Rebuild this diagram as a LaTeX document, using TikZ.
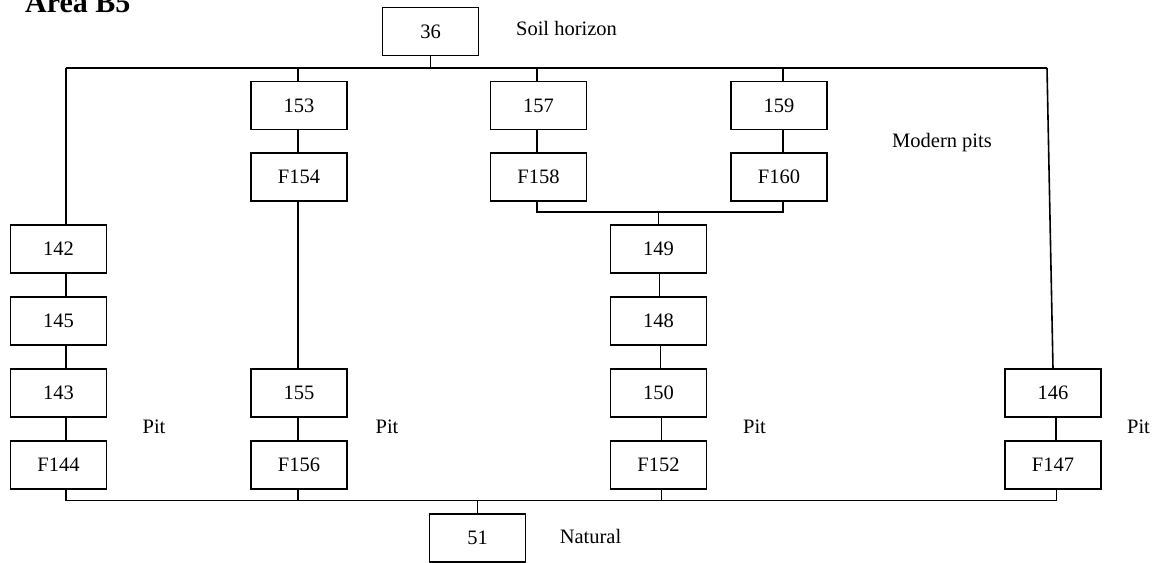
\documentclass[tikz,border=0pt]{standalone}
\usepackage{fontspec}
\setmainfont{Liberation Serif}
\begin{document}
\begin{tikzpicture}[x=1pt,y=-1pt,
  box/.style={draw, line width=1.6pt, minimum width=96pt, minimum height=48pt, inner sep=0pt, outer sep=0pt, font=\fontsize{20.5}{24}\selectfont},
  conn/.style={line width=1.6pt},
  lbl/.style={anchor=base, inner sep=0pt, font=\fontsize{20.5}{24}\selectfont}]
\useasboundingbox (0,0) rectangle (1161,562);
\node[anchor=base west, inner sep=0pt, font=\fontsize{30}{34}\selectfont\bfseries] (title) at (25,12.5) {Area B5};
% boxes
\node[box] (n36) at (430.5,31.5) {36};
\node[box] (n153) at (299,105.5) {153};
\node[box] (n157) at (538.5,105.5) {157};
\node[box] (n159) at (779,105.5) {159};
\node[box] (nF154) at (299,177) {F154};
\node[box] (nF158) at (538.5,177) {F158};
\node[box] (nF160) at (779,177) {F160};
\node[box] (n142) at (58.5,249) {142};
\node[box] (n149) at (658.5,249) {149};
\node[box] (n145) at (58.5,321) {145};
\node[box] (n148) at (658.5,321) {148};
\node[box] (n143) at (58.5,393) {143};
\node[box] (n155) at (299,393) {155};
\node[box] (n150) at (658.5,393) {150};
\node[box] (n146) at (1053,393) {146};
\node[box] (nF144) at (58.5,465) {F144};
\node[box] (nF156) at (299,465) {F156};
\node[box] (nF152) at (658.5,465) {F152};
\node[box] (nF147) at (1053,465) {F147};
\node[box] (n51) at (477.5,538) {51};
% labels
\node[lbl] (soil) at (566.5,35) {Soil horizon};
\node[lbl] (modern) at (942,147) {Modern pits};
\node[lbl] (natural) at (590.5,543) {Natural};
\node[lbl] (pit1) at (154,433) {Pit};
\node[lbl] (pit2) at (387,433) {Pit};
\node[lbl] (pit3) at (754.5,433) {Pit};
\node[lbl] (pit4) at (1138.5,433) {Pit};
% junction coordinates
\coordinate (tL) at (66,68);
\coordinate (tR) at (1047,68);
\coordinate (bL) at (66,500.5);
\coordinate (bR) at (1056.5,500.5);
\coordinate (mL) at (537,212);
\coordinate (mR) at (783,212);
% top bar
\draw[conn] (tL) -- (tR);
\draw[conn] (n36.south) -- (n36.south |- tL);
\draw[conn] (tL) -- ([xshift=7.5pt]n142.north);
\draw[conn] ([xshift=-1pt]n153.north |- tL) -- ([xshift=-1pt]n153.north);
\draw[conn] ([xshift=-1.5pt]n157.north |- tL) -- ([xshift=-1.5pt]n157.north);
\draw[conn] ([xshift=4pt]n159.north |- tL) -- ([xshift=4pt]n159.north);
\draw[conn] (tR) -- (n146.north);
% left column
\draw[conn] ([xshift=7.5pt]n142.south) -- ([xshift=7.5pt]n145.north);
\draw[conn] ([xshift=7.5pt]n145.south) -- ([xshift=7.5pt]n143.north);
\draw[conn] ([xshift=7.5pt]n143.south) -- ([xshift=7.5pt]nF144.north);
% second column
\draw[conn] ([xshift=-1pt]n153.south) -- ([xshift=-1pt]nF154.north);
\draw[conn] ([xshift=-1pt]nF154.south) -- ([xshift=-1pt]n155.north);
\draw[conn] ([xshift=-1pt]n155.south) -- ([xshift=-1pt]nF156.north);
% third/fourth
\draw[conn] ([xshift=-1.5pt]n157.south) -- ([xshift=-1.5pt]nF158.north);
\draw[conn] ([xshift=4pt]n159.south) -- ([xshift=4pt]nF160.north);
\draw[conn] ([xshift=-1.5pt]nF158.south) -- (mL) -- (mR) -- ([xshift=4pt]nF160.south);
\draw[conn] (n149.north |- mL) -- (n149.north);
% 149 column
\draw[conn] ([xshift=1pt]n149.south) -- ([xshift=1pt]n148.north);
\draw[conn] ([xshift=2pt]n148.south) -- ([xshift=2pt]n150.north);
\draw[conn] ([xshift=3pt]n150.south) -- ([xshift=3pt]nF152.north);
% 146 column
\draw[conn] ([xshift=3pt]n146.south) -- ([xshift=3pt]nF147.north);
% bottom bar
\draw[conn] (bL) -- (bR);
\draw[conn] ([xshift=7.5pt]nF144.south) -- (bL);
\draw[conn] ([xshift=-1pt]nF156.south) -- ([xshift=-1pt]nF156.south |- bL);
\draw[conn] ([xshift=3pt]nF152.south) -- ([xshift=3pt]nF152.south |- bL);
\draw[conn] ([xshift=3.5pt]nF147.south) -- (bR);
\draw[conn] (n51.north |- bL) -- (n51.north);
\end{tikzpicture}
\end{document}
